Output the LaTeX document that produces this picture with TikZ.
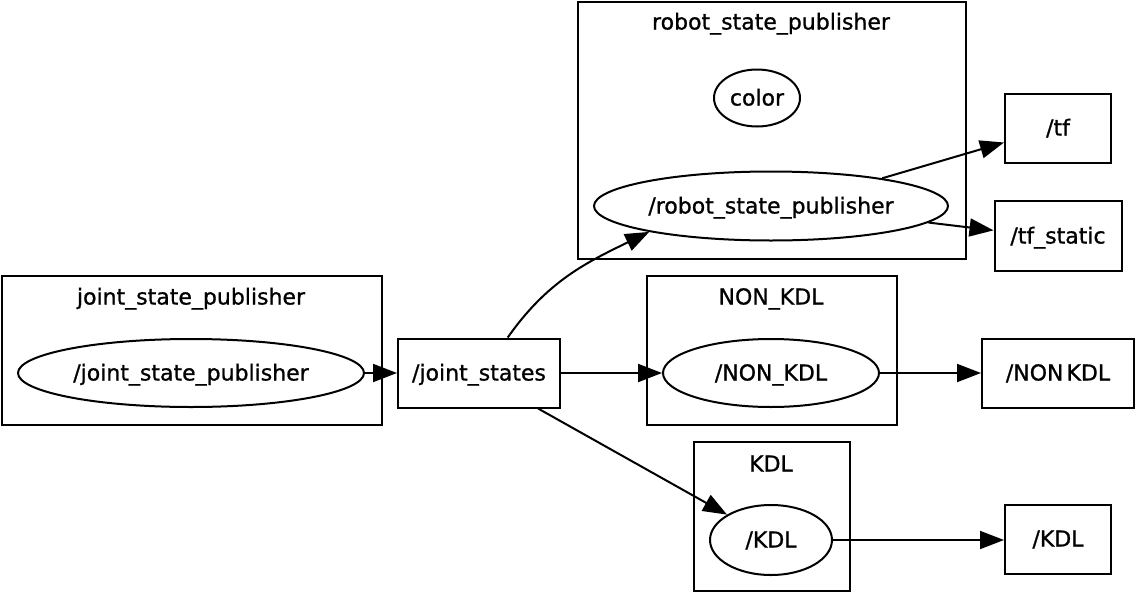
\documentclass[tikz,border=0pt]{standalone}
\usepackage{fontspec}
\setmainfont{DejaVu Sans}[FakeBold=0.9]
\usetikzlibrary{shapes.geometric,arrows.meta}
\begin{document}
\begin{tikzpicture}[x=1pt,y=-1pt,
  every node/.style={font=\fontsize{22}{26}\selectfont, inner sep=0pt, line width=2pt, text height=16.5pt, text depth=1.5pt},
  cluster/.style={draw, rectangle, anchor=north west},
  topicbox/.style={draw, rectangle},
  nodeell/.style={draw, ellipse},
  lbl/.style={},
  conn/.style={line width=2pt, -{Triangle[length=24pt,width=18pt]}}
]
\useasboundingbox (0,0) rectangle (1136,592);
% clusters
\node[cluster, minimum width=388pt, minimum height=257pt] (crsp) at (577,1) {};
\node[lbl] (lrsp) at (771,22) {robot\_state\_publisher};
\node[cluster, minimum width=380pt, minimum height=149pt] (cjsp) at (1,275) {};
\node[lbl] (ljsp) at (191,297) {joint\_state\_publisher};
\node[cluster, minimum width=250pt, minimum height=149pt] (cnon) at (646,275) {};
\node[lbl] (lnon) at (771,297) {NON\_KDL};
\node[cluster, minimum width=156pt, minimum height=149pt] (ckdl) at (693,441) {};
\node[lbl] (lkdl) at (771,464) {KDL};
% ellipses
\node[nodeell, minimum width=86pt, minimum height=57pt] (color) at (757,98) {color};
\node[nodeell, minimum width=354pt, minimum height=69pt] (rsp) at (771,206) {/robot\_state\_publisher};
\node[nodeell, minimum width=346pt, minimum height=68pt] (jsp) at (191,373) {/joint\_state\_publisher};
\node[nodeell, minimum width=216pt, minimum height=68pt] (non) at (771,373) {/NON\_KDL};
\node[nodeell, minimum width=122pt, minimum height=70pt] (kdl) at (771,540) {/KDL};
% topic boxes
\node[topicbox, minimum width=106pt, minimum height=69pt] (tf) at (1058,128) {/tf};
\node[topicbox, minimum width=127pt, minimum height=70pt] (tfs) at (1058,236) {/tf\_static};
\node[topicbox, minimum width=162pt, minimum height=69pt] (js) at (479,373) {/joint\_states};
\node[topicbox, minimum width=152pt, minimum height=69pt] (nonb) at (1058,373) {/NON\kern3pt KDL};
\node[topicbox, minimum width=106pt, minimum height=69pt] (kdlb) at (1058,539) {/KDL};
% connectors
\draw[conn] (jsp.east) -- (js.west);
\draw[conn] (js.51) to[out=55,in=206] (rsp.192);
\draw[conn] (js.east) -- (non.west);
\draw[conn] (js.-31) -- (kdl.150);
\draw[conn] (rsp.14) -- (tf.195);
\draw[conn] (rsp.-6) -- (tfs.175);
\draw[conn] (non.east) -- (nonb.west);
\draw[conn] (kdl.east) -- (kdlb.west |- kdl.east);
\end{tikzpicture}
\end{document}
